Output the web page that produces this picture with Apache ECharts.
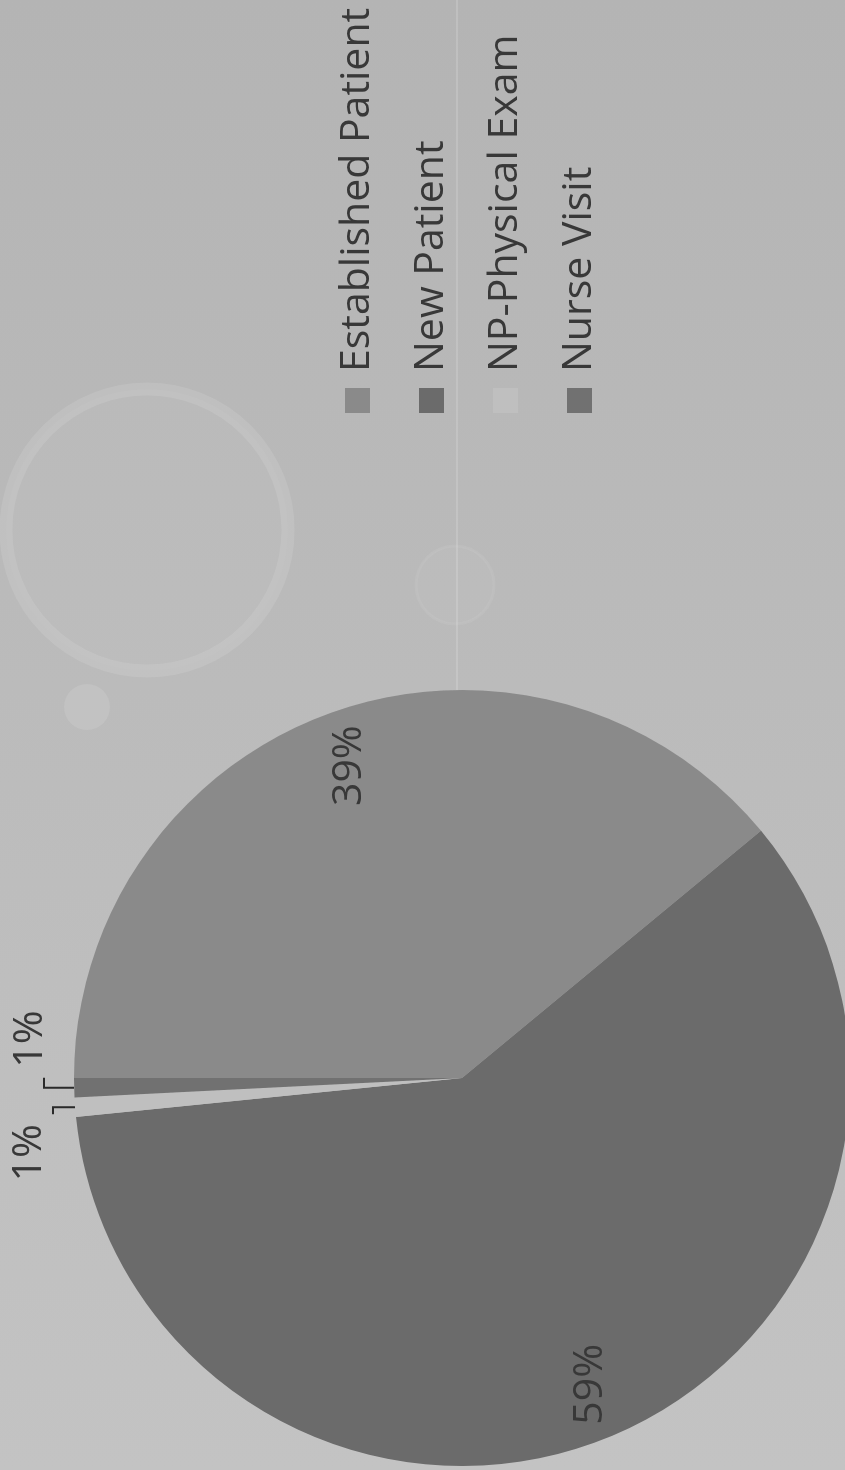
<!DOCTYPE html>
<html>
<head>
<meta charset="utf-8">
<script src="https://cdn.jsdelivr.net/npm/echarts@6/dist/echarts.min.js"></script>
<style>
  html, body { margin: 0; padding: 0; width: 845px; height: 1470px; overflow: hidden; background: #bababa; }
  #chart {
    position: absolute; left: 0; top: 0;
    width: 1470px; height: 845px;
    transform-origin: 0 0;
    transform: translate(0, 1470px) rotate(-90deg);
  }
</style>
</head>
<body>
<div id="chart"></div>
<script>
// ---- data ----
const categories = ['Established Patient', 'New Patient', 'NP-Physical Exam', 'Nurse Visit'];
const values = [39.0, 59.4, 0.8, 0.8];
const colors = ['#8a8a8a', '#6b6b6b', '#bfbfbf', '#717171'];

const FONT = 'Open Sans';
const TEXT = '#383838';
const CENTER = [392, 462];
const R = 388;

const chart = echarts.init(document.getElementById('chart'), null, { renderer: 'canvas' });

const mainData = categories.map((name, i) => ({
  name: name,
  value: values[i],
  itemStyle: { color: colors[i] },
  label: { show: i >= 2 },
  labelLine: { show: i >= 2 }
}));
const overlayData = categories.map((name, i) => ({
  name: name,
  value: values[i],
  label: { show: i < 2 }
}));

const option = {
  backgroundColor: {
    type: 'linear', x: 0, y: 0, x2: 1, y2: 0,
    colorStops: [{ offset: 0, color: '#c3c3c3' }, { offset: 1, color: '#b4b4b4' }]
  },
  animation: false,
  graphic: [
    { type: 'circle', shape: { cx: 940, cy: 147, r: 141 }, silent: true, z: 0,
      style: { fill: 'rgba(255,255,255,0.03)', stroke: 'rgba(255,255,255,0.1)', lineWidth: 13 } },
    { type: 'circle', shape: { cx: 763, cy: 87, r: 23 }, silent: true, z: 0,
      style: { fill: 'rgba(255,255,255,0.1)' } },
    { type: 'circle', shape: { cx: 885, cy: 455, r: 39 }, silent: true, z: 0,
      style: { fill: 'rgba(255,255,255,0.04)', stroke: 'rgba(255,255,255,0.06)', lineWidth: 3 } },
    { type: 'line', shape: { x1: 780, y1: 457, x2: 1470, y2: 457 }, silent: true, z: 0,
      style: { stroke: 'rgba(255,255,255,0.2)', lineWidth: 1.5 } }
  ],
  legend: {
    orient: 'vertical',
    left: 1052,
    top: 332,
    icon: 'rect',
    itemWidth: 25,
    itemHeight: 25,
    itemGap: 33,
    selectedMode: false,
    data: categories.map((name, i) => ({ name: name, itemStyle: { color: colors[i] } })),
    textStyle: {
      fontFamily: FONT, fontSize: 41, lineHeight: 41, color: TEXT,
      padding: [0, 0, 0, 11]
    }
  },
  series: [
    {
      type: 'pie',
      name: 'main',
      center: CENTER,
      radius: R,
      startAngle: 90,
      clockwise: true,
      percentPrecision: 0,
      avoidLabelOverlap: false,
      silent: true,
      itemStyle: { borderWidth: 0 },
      label: {
        position: 'outside',
        formatter: '{d}%',
        fontFamily: FONT, fontSize: 41, color: TEXT
      },
      labelLine: {
        length: 20, length2: 10,
        lineStyle: { color: '#2a2a2a', width: 2 }
      },
      labelLayout: function (p) {
        const pts = p.labelLinePoints;
        if (!pts) return {};
        const a = pts[0];
        if (p.dataIndex === 3) {
          return {
            x: a[0] + 20, y: a[1] - 44, align: 'left', verticalAlign: 'middle',
            labelLinePoints: [a, [a[0], a[1] - 30], [a[0] + 10, a[1] - 30]]
          };
        }
        if (p.dataIndex === 2) {
          return {
            x: a[0] - 17, y: a[1] - 46, align: 'right', verticalAlign: 'middle',
            labelLinePoints: [a, [a[0], a[1] - 22], [a[0] - 7, a[1] - 22]]
          };
        }
        return {};
      },
      data: mainData
    },
    {
      type: 'pie',
      name: 'labels',
      center: CENTER,
      radius: [270, R],
      startAngle: 90,
      clockwise: true,
      percentPrecision: 0,
      silent: true,
      legendHoverLink: false,
      itemStyle: { color: 'rgba(0,0,0,0)', borderWidth: 0 },
      label: {
        position: 'inside',
        formatter: '{d}%',
        fontFamily: FONT, fontSize: 41, color: TEXT
      },
      labelLine: { show: false },
      data: overlayData
    }
  ]
};

chart.setOption(option);
</script>
</body>
</html>
